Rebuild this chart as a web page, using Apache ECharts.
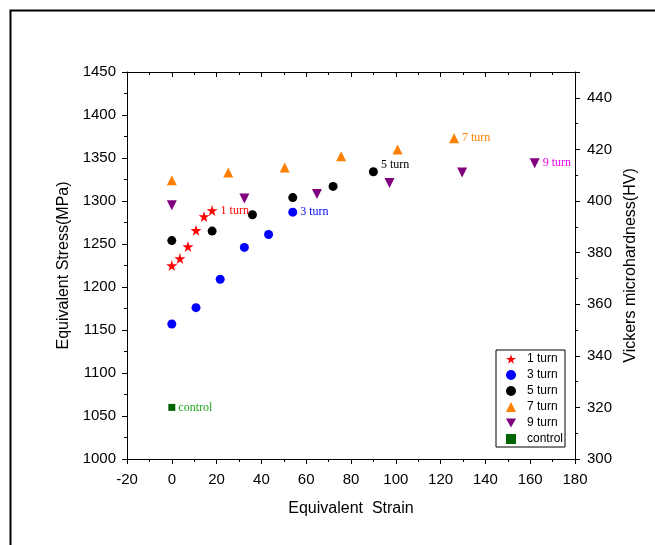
<!DOCTYPE html>
<html>
<head>
<meta charset="utf-8">
<script src="https://cdn.jsdelivr.net/npm/echarts@6/dist/echarts.min.js"></script>
<style>
  html, body { margin: 0; padding: 0; background: #fff; }
  #main { width: 655px; height: 545px; }
</style>
</head>
<body>
<div id="main"></div>
<script>
// strain / stress per number of turns
var strain1 = [0, 3.6, 7.2, 10.8, 14.4, 18];
var stress1 = [1225, 1233, 1247, 1266, 1282, 1289];
var strain3 = [0, 10.8, 21.6, 32.4, 43.2, 54];
var stress3 = [1157, 1176, 1209, 1246, 1261, 1287];
var strain5 = [0, 18, 36, 54, 72, 90];
var stress5 = [1254, 1265, 1284, 1304, 1317, 1334];
var strain7 = [0, 25.2, 50.4, 75.6, 100.8, 126];
var stress7 = [1324, 1333, 1339, 1352, 1360, 1373];
var strain9 = [0, 32.4, 64.8, 97.2, 129.6, 162];
var stress9 = [1295, 1303, 1308, 1321, 1333, 1344];
var strainCtrl = [0];
var stressCtrl = [1060];

var seriesNames = ['1 turn', '3 turn', '5 turn', '7 turn', '9 turn', 'control'];

var starPath = 'path://M50,0 L61,35 L98,35 L68,57 L79,91 L50,70 L21,91 L32,57 L2,35 L39,35 Z';
var downTri = 'path://M0,0 L10,0 L5,9 Z';

function pairs(xs, ys) {
  return xs.map(function (x, i) { return [x, ys[i]]; });
}

function mkSeries(name, xs, ys, symbol, size, color, labelColor, labelOffset) {
  var last = xs.length - 1;
  return {
    name: name,
    type: 'scatter',
    symbol: symbol,
    symbolSize: size,
    itemStyle: { color: color, opacity: 1 },
    data: pairs(xs, ys),
    label: {
      show: true,
      position: 'right',
      distance: 3,
      offset: labelOffset || [0, 0],
      color: labelColor,
      fontFamily: 'Liberation Serif',
      fontSize: 12,
      formatter: function (p) { return p.dataIndex === last ? name : ''; }
    },
    emphasis: { disabled: true }
  };
}

var chart = echarts.init(document.getElementById('main'));

var axisFont = { fontFamily: 'Liberation Sans', fontSize: 15, color: '#000',
  formatter: function (v) { return String(v); } };
var lineStyle = { color: '#000', width: 1 };
var nameFont = { fontFamily: 'Liberation Sans', fontSize: 16, color: '#000' };

var option = {
  animation: false,
  textStyle: { fontFamily: 'Liberation Sans' },
  graphic: [{
    type: 'rect',
    left: 8, top: 8,
    shape: { width: 700, height: 600 },
    style: { fill: 'none', stroke: '#000', lineWidth: 2 },
    silent: true
  }],
  grid: { left: 127, right: 80, top: 72, bottom: 86 },
  legend: {
    orient: 'vertical',
    left: 496, top: 350,
    padding: [2, 2, 1, 10],
    borderColor: '#000',
    borderWidth: 1,
    itemWidth: 10,
    itemHeight: 10,
    itemGap: 2,
    data: seriesNames,
    textStyle: { fontFamily: 'Liberation Sans', fontSize: 12, color: '#000',
      lineHeight: 14, padding: [0, 0, 0, 6] }
  },
  xAxis: [{
    type: 'value',
    min: -20, max: 180, interval: 20,
    name: 'Equivalent  Strain',
    nameLocation: 'middle',
    nameGap: 42,
    nameTextStyle: nameFont,
    axisLine: { show: true, onZero: false, lineStyle: lineStyle },
    axisTick: { show: true, inside: false, length: 5, lineStyle: lineStyle },
    minorTick: { show: true, splitNumber: 2, length: 3, lineStyle: lineStyle },
    axisLabel: Object.assign({ margin: 13 }, axisFont),
    splitLine: { show: false }
  }, {
    type: 'value',
    position: 'top',
    min: -20, max: 180, interval: 20,
    axisLine: { show: true, onZero: false, lineStyle: lineStyle },
    axisTick: { show: true, inside: true, length: 5, lineStyle: lineStyle },
    minorTick: { show: true, splitNumber: 2, length: 3, lineStyle: lineStyle },
    axisLabel: { show: false },
    splitLine: { show: false }
  }],
  yAxis: [{
    type: 'value',
    min: 1000, max: 1450, interval: 50,
    name: 'Equivalent Stress(MPa)',
    nameLocation: 'middle',
    nameGap: 48,
    nameTextStyle: nameFont,
    axisLine: { show: true, onZero: false, lineStyle: lineStyle },
    axisTick: { show: true, inside: false, length: 5, lineStyle: lineStyle },
    minorTick: { show: true, splitNumber: 2, length: 3, lineStyle: lineStyle },
    axisLabel: Object.assign({ margin: 11 }, axisFont),
    splitLine: { show: false }
  }, {
    type: 'value',
    position: 'right',
    min: 300, max: 450, interval: 20,
    name: 'Vickers microhardness(HV)',
    nameLocation: 'middle',
    nameGap: 48,
    nameTextStyle: nameFont,
    axisLine: { show: true, onZero: false, lineStyle: lineStyle },
    axisTick: { show: true, inside: false, length: 5, lineStyle: lineStyle },
    minorTick: { show: true, splitNumber: 2, length: 3, lineStyle: lineStyle },
    axisLabel: Object.assign({ margin: 12, showMaxLabel: false }, axisFont),
    splitLine: { show: false }
  }],
  series: [
    mkSeries('1 turn', strain1, stress1, starPath, 11, '#ff0000', '#ff0000'),
    mkSeries('3 turn', strain3, stress3, 'circle', 9, '#0000ff', '#0000ff'),
    mkSeries('5 turn', strain5, stress5, 'circle', 9, '#000000', '#000000', [0, -7]),
    mkSeries('7 turn', strain7, stress7, 'triangle', 10, '#ff8000', '#ff8000'),
    mkSeries('9 turn', strain9, stress9, downTri, 10, '#800080', '#ee00ee'),
    mkSeries('control', strainCtrl, stressCtrl, 'rect', 7, '#006400', '#22aa22')
  ]
};

chart.setOption(option);
</script>
</body>
</html>
